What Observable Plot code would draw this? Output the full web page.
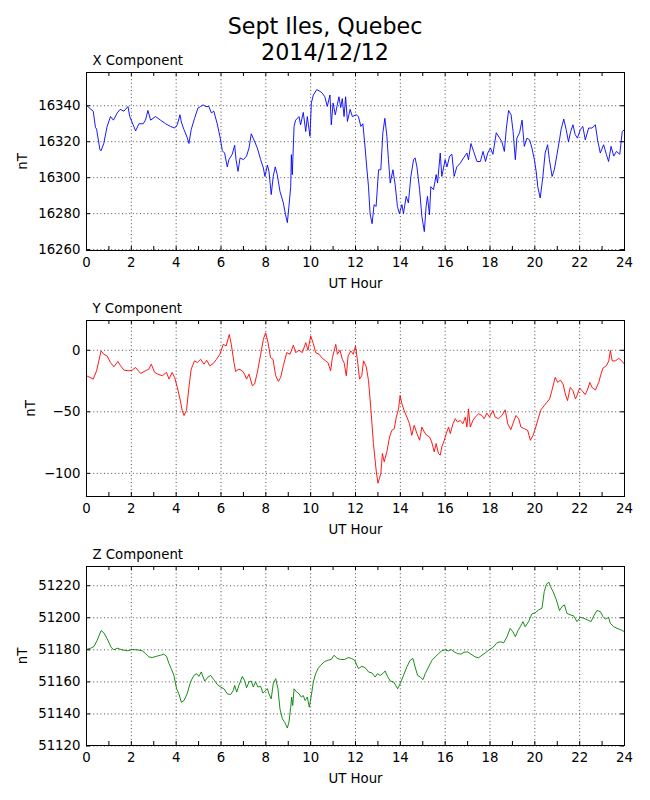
<!DOCTYPE html>
<html><head><meta charset="utf-8">
<script src="https://cdn.jsdelivr.net/npm/d3@7"></script>
<script src="https://cdn.jsdelivr.net/npm/@observablehq/plot@0.6"></script>
<style>
body{margin:0;background:#fff;font-family:"DejaVu Sans",sans-serif;}
#fig{position:relative;width:650px;height:800px;background:#fff;}
#title{position:absolute;top:12.7px;left:0;width:650px;text-align:center;font-size:22.2px;line-height:26.6px;color:#000;z-index:5;}
.panel{position:absolute;left:0;z-index:1;}
.panel svg{display:block;}
</style></head><body>
<div id="fig"><div id="title"></div></div>
<script>
const titleLines = ["Sept Iles, Quebec", "2014/12/12"];
const panelNames = ["X Component", "Y Component", "Z Component"];
const xAxisLabel = "UT Hour";
const yAxisLabel = "nT";
const hourLabelTicks = [0,2,4,6,8,10,12,14,16,18,20,22,24];
const hourTicks = [0,1,2,3,4,5,6,7,8,9,10,11,12,13,14,15,16,17,18,19,20,21,22,23,24];
const xCompTicks = [16260,16280,16300,16320,16340];
const yCompTicks = [-100,-50,0];
const zCompTicks = [51120,51140,51160,51180,51200,51220];

const xCompHours = [0,0.1,0.3,0.4,0.45,0.6,0.65,0.77,0.92,1.07,1.2,1.37,1.5,1.67,1.85,1.93,2.11,2.19,2.34,2.53,2.63,2.74,2.86,3.08,3.3,3.53,3.75,3.93,4.05,4.17,4.23,4.35,4.5,4.57,4.67,4.82,4.97,5.09,5.2,5.31,5.46,5.57,5.68,5.83,5.95,6.06,6.16,6.28,6.35,6.5,6.61,6.67,6.76,6.85,7.0,7.14,7.25,7.35,7.47,7.62,7.77,7.89,7.96,8.07,8.14,8.24,8.33,8.42,8.51,8.63,8.78,8.88,8.96,9.03,9.11,9.14,9.18,9.26,9.33,9.48,9.55,9.67,9.78,9.85,9.97,10.03,10.12,10.27,10.42,10.52,10.63,10.74,10.86,10.92,11.0,11.1,11.26,11.34,11.41,11.49,11.56,11.64,11.76,11.86,
12.03,12.13,12.24,12.33,12.43,12.5,12.58,12.65,12.74,12.83,12.92,13.03,13.13,13.22,13.31,13.4,13.47,13.55,13.67,13.77,13.87,13.96,14.07,14.14,14.26,14.36,14.47,14.59,14.66,14.74,14.86,14.96,15.07,15.15,15.21,15.3,15.36,15.48,15.6,15.66,15.78,15.85,16.0,16.08,16.2,16.3,16.4,16.52,16.67,16.82,16.97,17.04,17.15,17.27,17.42,17.57,17.69,17.8,17.9,18.02,18.13,18.28,18.43,18.53,18.64,18.73,18.83,18.94,19.03,19.13,19.2,19.32,19.43,19.53,19.65,19.77,19.87,19.98,20.07,20.13,20.24,20.36,20.46,20.57,20.65,20.77,20.87,20.99,21.1,21.17,21.29,21.4,21.5,21.6,21.7,21.8,21.9,22.03,22.14,22.25,22.4,22.55,22.7,22.8,22.92,23.07,23.19,23.29,23.4,23.52,23.64,23.79,23.9,24.0];
const xCompNT = [16340.5,16339,16337,16328,16327,16315.5,16315,16319,16328.5,16334,16332,16336,16338,16337,16339.6,16334,16328.5,16326,16330,16330,16332,16337.4,16332,16334,16332,16330,16328.5,16327.6,16329.4,16335,16331,16326.7,16322,16319,16326.7,16333,16338.7,16339.6,16340.5,16339.6,16339.6,16336,16337,16330,16323,16315,16313.7,16306,16310,16313,16318,16310,16303.5,16311,16310,16312,16316.5,16324.4,16321,16316.5,16310,16305.4,16300.7,16307,16303.5,16290.6,16300.7,16306,16301.7,16292.4,16286,16279.4,16275,16284,16295,16312.8,16301.7,16328.5,16332,16334,16329.4,16336.3,16325.7,16334,16323,16341.5,16346,16349,16348,16347,16345,16339.6,16346,16329.4,16341.5,16335,16345,16339,16344,16334,16345,16331.3,16338,16334,
16335,16334,16328.5,16330,16316.5,16306,16295,16280,16274.4,16285,16284,16304.4,16304.4,16325,16333,16323,16310,16297,16304.4,16296,16284,16280,16285,16280,16289.6,16286,16300.7,16310,16311,16306,16293.3,16278.5,16270,16284,16289.6,16279.4,16295,16293.3,16301.7,16297,16313.7,16300.7,16310,16306,16312,16313,16300.7,16306,16308,16311,16313.7,16310,16319,16314.6,16309,16309,16314.6,16309,16313.7,16316.5,16313,16325,16322,16320,16314.6,16327.6,16337.4,16335,16325.7,16310,16322,16325,16332,16317.4,16322,16321,16316.5,16310,16302.6,16295,16288.7,16300.7,16313.7,16318.3,16310,16300.7,16304.4,16313,16321,16326.7,16332.6,16326.7,16320,16325.7,16329.4,16324,16322,16326.7,16328.5,16321,16327.6,16327.6,16329.4,16321,16313.7,16318.3,16313,16309,16317.4,16312,16314.6,16313,16325.7,16326.7];

const yCompHours = [0,0.15,0.3,0.45,0.55,0.65,0.77,0.92,1.07,1.22,1.4,1.52,1.67,1.89,2.04,2.19,2.41,2.63,2.78,2.89,3.04,3.18,3.38,3.57,3.68,3.82,3.93,4.05,4.17,4.27,4.35,4.46,4.57,4.67,4.82,4.94,5.09,5.24,5.36,5.5,5.65,5.8,5.95,6.1,6.23,6.37,6.46,6.58,6.65,6.8,6.95,7.05,7.14,7.25,7.4,7.5,7.62,7.77,7.89,7.99,8.1,8.21,8.32,8.44,8.56,8.66,8.78,8.93,9.08,9.23,9.33,9.48,9.63,9.78,9.88,10.0,10.12,10.22,10.37,10.52,10.67,10.77,10.89,10.97,11.12,11.19,11.31,11.41,11.49,11.59,11.67,11.79,11.9,
12.0,12.09,12.18,12.28,12.36,12.48,12.58,12.68,12.8,12.92,13.0,13.07,13.13,13.2,13.28,13.4,13.52,13.62,13.73,13.82,13.92,13.99,14.07,14.17,14.29,14.41,14.51,14.62,14.74,14.86,14.96,15.07,15.18,15.3,15.4,15.51,15.6,15.7,15.78,15.85,15.96,16.05,16.15,16.23,16.35,16.45,16.55,16.67,16.79,16.9,16.97,17.04,17.12,17.24,17.34,17.49,17.64,17.74,17.86,17.98,18.13,18.23,18.38,18.53,18.68,18.79,18.93,19.05,19.16,19.28,19.38,19.53,19.68,19.8,19.92,20.02,20.17,20.27,20.42,20.54,20.66,20.76,20.91,21.02,21.14,21.26,21.36,21.46,21.58,21.7,21.81,21.88,22.0,22.1,22.25,22.36,22.45,22.55,22.7,22.85,22.95,23.04,23.19,23.3,23.37,23.45,23.6,23.74,23.85,24.0];
const yCompNT = [-20.7,-22,-23.4,-16.7,-8.6,-0.5,-3.2,-4.6,-10,-13.4,-9.1,-12.6,-16.1,-16.7,-16.1,-14,-18.8,-16.7,-15.3,-11.3,-18,-19.4,-20.7,-18,-23.4,-18,-22,-30,-39.5,-49,-53,-49,-30,-15.3,-8.6,-10,-7.3,-11.3,-8.1,-12.6,-10.8,-7.3,-3.2,4.8,3.5,12.9,4.8,-10,-17.2,-15.3,-16.7,-19.4,-23.4,-19.4,-28.8,-27.4,-18,-3.2,8.9,14.2,6.2,-5.9,-7.3,-20.7,-25.3,-22,-12.6,-1.9,-3.2,4.3,-1.9,0,-1.9,6.2,0,11.6,5.4,-1.9,-3.2,-6.5,-8.6,-10,-16.7,-5.9,4.8,-3.2,0,-7.3,-10,-20.7,-4.6,-0.5,-3.2,
3.5,-8.6,-23.4,-20.7,-8.6,-13.4,-24.7,-46.2,-75.8,-97.3,-108,-104,-100,-83.9,-90.6,-82.5,-70.4,-65,-63.7,-54.3,-47.6,-36.8,-43.5,-48.9,-54.3,-59.7,-69.1,-61,-67.7,-73.1,-62.4,-66.4,-69.1,-70.4,-74.5,-82.5,-75.8,-83.9,-85.2,-78.5,-73.1,-67.7,-62.4,-67.7,-59.7,-55.6,-58.3,-57,-59.7,-54.3,-62.4,-47.6,-62.4,-57,-54.3,-51.6,-53,-55.6,-51.1,-54.3,-48.9,-54.3,-55.6,-53,-48.4,-59.7,-64.5,-58.3,-53,-55.6,-62.4,-63.7,-65,-73.1,-69.1,-63.7,-54.3,-48.4,-44.9,-42.2,-39.5,-32.8,-22,-26.1,-24.2,-27.4,-35.5,-40.9,-30.1,-32.8,-39.5,-36.8,-30.6,-32.8,-36,-31.5,-26.1,-30.1,-32.3,-26.1,-19.4,-14.5,-12.6,-8.6,0,-8.6,-8.6,-6.5,-8.1,-11.3];

const zCompHours = [0,0.18,0.33,0.48,0.65,0.77,0.92,1.1,1.22,1.37,1.59,1.82,2.04,2.26,2.49,2.63,2.78,2.93,3.13,3.3,3.45,3.57,3.68,3.78,3.9,4.02,4.12,4.23,4.35,4.49,4.64,4.79,4.91,5.01,5.12,5.27,5.42,5.54,5.68,5.83,5.98,6.13,6.28,6.43,6.55,6.61,6.7,6.8,6.95,7.05,7.14,7.25,7.35,7.44,7.54,7.65,7.77,7.87,7.96,8.07,8.14,8.24,8.33,8.44,8.54,8.63,8.74,8.84,8.96,9.03,9.11,9.15,9.2,9.26,9.38,9.48,9.58,9.67,9.75,9.85,9.94,10.03,10.12,10.22,10.33,10.45,10.6,10.77,10.92,11.04,11.19,11.34,11.52,11.67,11.82,11.96,
12.13,12.28,12.43,12.58,12.73,12.88,12.98,13.1,13.25,13.32,13.43,13.55,13.7,13.88,13.99,14.14,14.29,14.44,14.56,14.66,14.77,14.89,15.01,15.11,15.26,15.41,15.56,15.71,15.85,16.0,16.15,16.27,16.4,16.55,16.7,16.85,17.0,17.15,17.34,17.49,17.64,17.79,17.98,18.13,18.31,18.46,18.61,18.76,18.9,19.02,19.13,19.25,19.35,19.47,19.57,19.72,19.87,20.02,20.17,20.32,20.42,20.51,20.57,20.63,20.69,20.81,20.96,21.1,21.21,21.32,21.43,21.58,21.73,21.88,22.03,22.18,22.36,22.51,22.63,22.77,22.92,23.04,23.15,23.29,23.37,23.52,23.67,23.85,24.0];
const zCompNT = [51180.2,51181,51182,51186,51192,51190.7,51187,51181.5,51180,51181,51180,51179.4,51180.2,51180,51179.4,51177.7,51175.6,51175.2,51176,51176.6,51177.3,51176,51171.4,51168.3,51164,51155.7,51152.6,51147.3,51148.4,51152.6,51160,51164,51165.1,51163.4,51166.2,51160.5,51163,51164,51161.4,51158.4,51156.8,51155.7,51152.6,51152.1,51154.7,51157.8,51153.6,51157.8,51163.4,51161,51156.3,51160,51160.5,51156.8,51160,51156.8,51157.2,51153,51154.2,51155.7,51152.6,51149.4,51158.8,51162,51155.7,51143.1,51136.9,51134.8,51131.2,51134.8,51144.2,51150.5,51145.2,51155.7,51153.6,51152.6,51150.5,51151.5,51148.4,51150.5,51144.2,51151.5,51160,51165.1,51168.3,51170.4,51172.5,51173.5,51174,51176.6,51174.6,51174,51174,51175.2,51174.6,51173.5,
51168.3,51169.7,51168.9,51166.2,51165.6,51163,51165.1,51164,51165.6,51166.8,51163.4,51160.5,51160,51155.7,51158.8,51164,51169.3,51173.5,51174.6,51169.3,51164,51163,51161.4,51165.1,51169.3,51173.5,51175.6,51177.7,51179.4,51180,51179.4,51180.2,51178.7,51177.7,51177.3,51178.5,51178.7,51177.3,51175.6,51175,51176.6,51178.1,51180.2,51181.5,51184.4,51185,51184.4,51188.2,51193.4,51191.3,51188.2,51192,51194.4,51197.6,51194.4,51197.6,51202.4,51203.2,51204.9,51206,51216.4,51220.6,51221.7,51222.1,51219.6,51216.4,51211.2,51204.5,51207,51208.1,51202.8,51201.8,51201.2,51197.6,51200.3,51199.7,51198.6,51197.6,51201.2,51204.5,51203.9,51200.7,51199.1,51200.3,51196.5,51194.4,51193.4,51192.4,51191.3];

document.getElementById("title").innerHTML = titleLines.map(t => `<div>${t}</div>`).join("");

const W = 650, ML = 86, MR = 26, MB = 45;
const PW = W - ML - MR;
const font = '"DejaVu Sans", sans-serif';

function panel({hours, values, color, domain, ticks, name, top, mt, ph, nTdx}) {
  const data = hours.map((h, i) => ({h, v: values[i]}));
  const grid = {stroke: "black", strokeOpacity: 1, strokeWidth: 0.7, strokeDasharray: "1,2.6"};
  const chart = Plot.plot({
    width: W, height: mt + ph + MB,
    marginLeft: ML, marginRight: MR, marginTop: mt, marginBottom: MB,
    style: {fontFamily: font, fontSize: "13.3px", color: "black", background: "transparent", overflow: "visible"},
    x: {domain: [0, 24]},
    y: {domain},
    marks: [
      Plot.gridX(hourLabelTicks, grid),
      Plot.gridY(ticks, grid),
      Plot.lineY(data, {x: "h", y: "v", stroke: color, strokeWidth: 0.9}),
      Plot.frame({stroke: "black", strokeWidth: 1}),
      Plot.tickX(hourTicks, {x: d => d, stroke: "black", insetTop: ph - 4}),
      Plot.tickX(hourTicks, {x: d => d, stroke: "black", insetBottom: ph - 4}),
      Plot.tickY(ticks, {y: d => d, stroke: "black", insetRight: PW - 4}),
      Plot.tickY(ticks, {y: d => d, stroke: "black", insetLeft: PW - 4}),
      Plot.axisX(hourLabelTicks, {tickSize: 0, tickPadding: 7, label: null, tickFormat: d3.format("d"), fontSize: 13.3}),
      Plot.axisY(ticks, {tickSize: 0, tickPadding: 6, label: null, tickFormat: d3.format("d"), fontSize: 13.3}),
      Plot.text([xAxisLabel], {text: d => d, frameAnchor: "bottom", dy: 33, lineAnchor: "middle", textAnchor: "middle", fontSize: 13.3, fill: "black"}),
      Plot.text([yAxisLabel], {text: d => d, frameAnchor: "left", dx: nTdx, rotate: -90, lineAnchor: "middle", textAnchor: "middle", fontSize: 13.3, fill: "black"}),
      Plot.text([name], {text: d => d, frameAnchor: "top-left", dx: 6, dy: -12, lineAnchor: "middle", textAnchor: "start", fontSize: 13.3, fill: "black"})
    ]
  });
  const div = document.createElement("div");
  div.className = "panel";
  div.style.top = top + "px";
  div.appendChild(chart);
  document.getElementById("fig").appendChild(div);
}

panel({hours: xCompHours, values: xCompNT, color: "#0000ff", domain: [16259.5, 16358.5], ticks: xCompTicks, name: panelNames[0], top: 50, mt: 22, ph: 178, nTdx: -64});
panel({hours: yCompHours, values: yCompNT, color: "#ff0000", domain: [-118.8, 24.2], ticks: yCompTicks, name: panelNames[1], top: 297, mt: 23, ph: 176, nTdx: -56});
panel({hours: zCompHours, values: zCompNT, color: "#008000", domain: [51120.3, 51232], ticks: zCompTicks, name: panelNames[2], top: 543, mt: 23, ph: 179, nTdx: -64});
</script>
</body></html>
